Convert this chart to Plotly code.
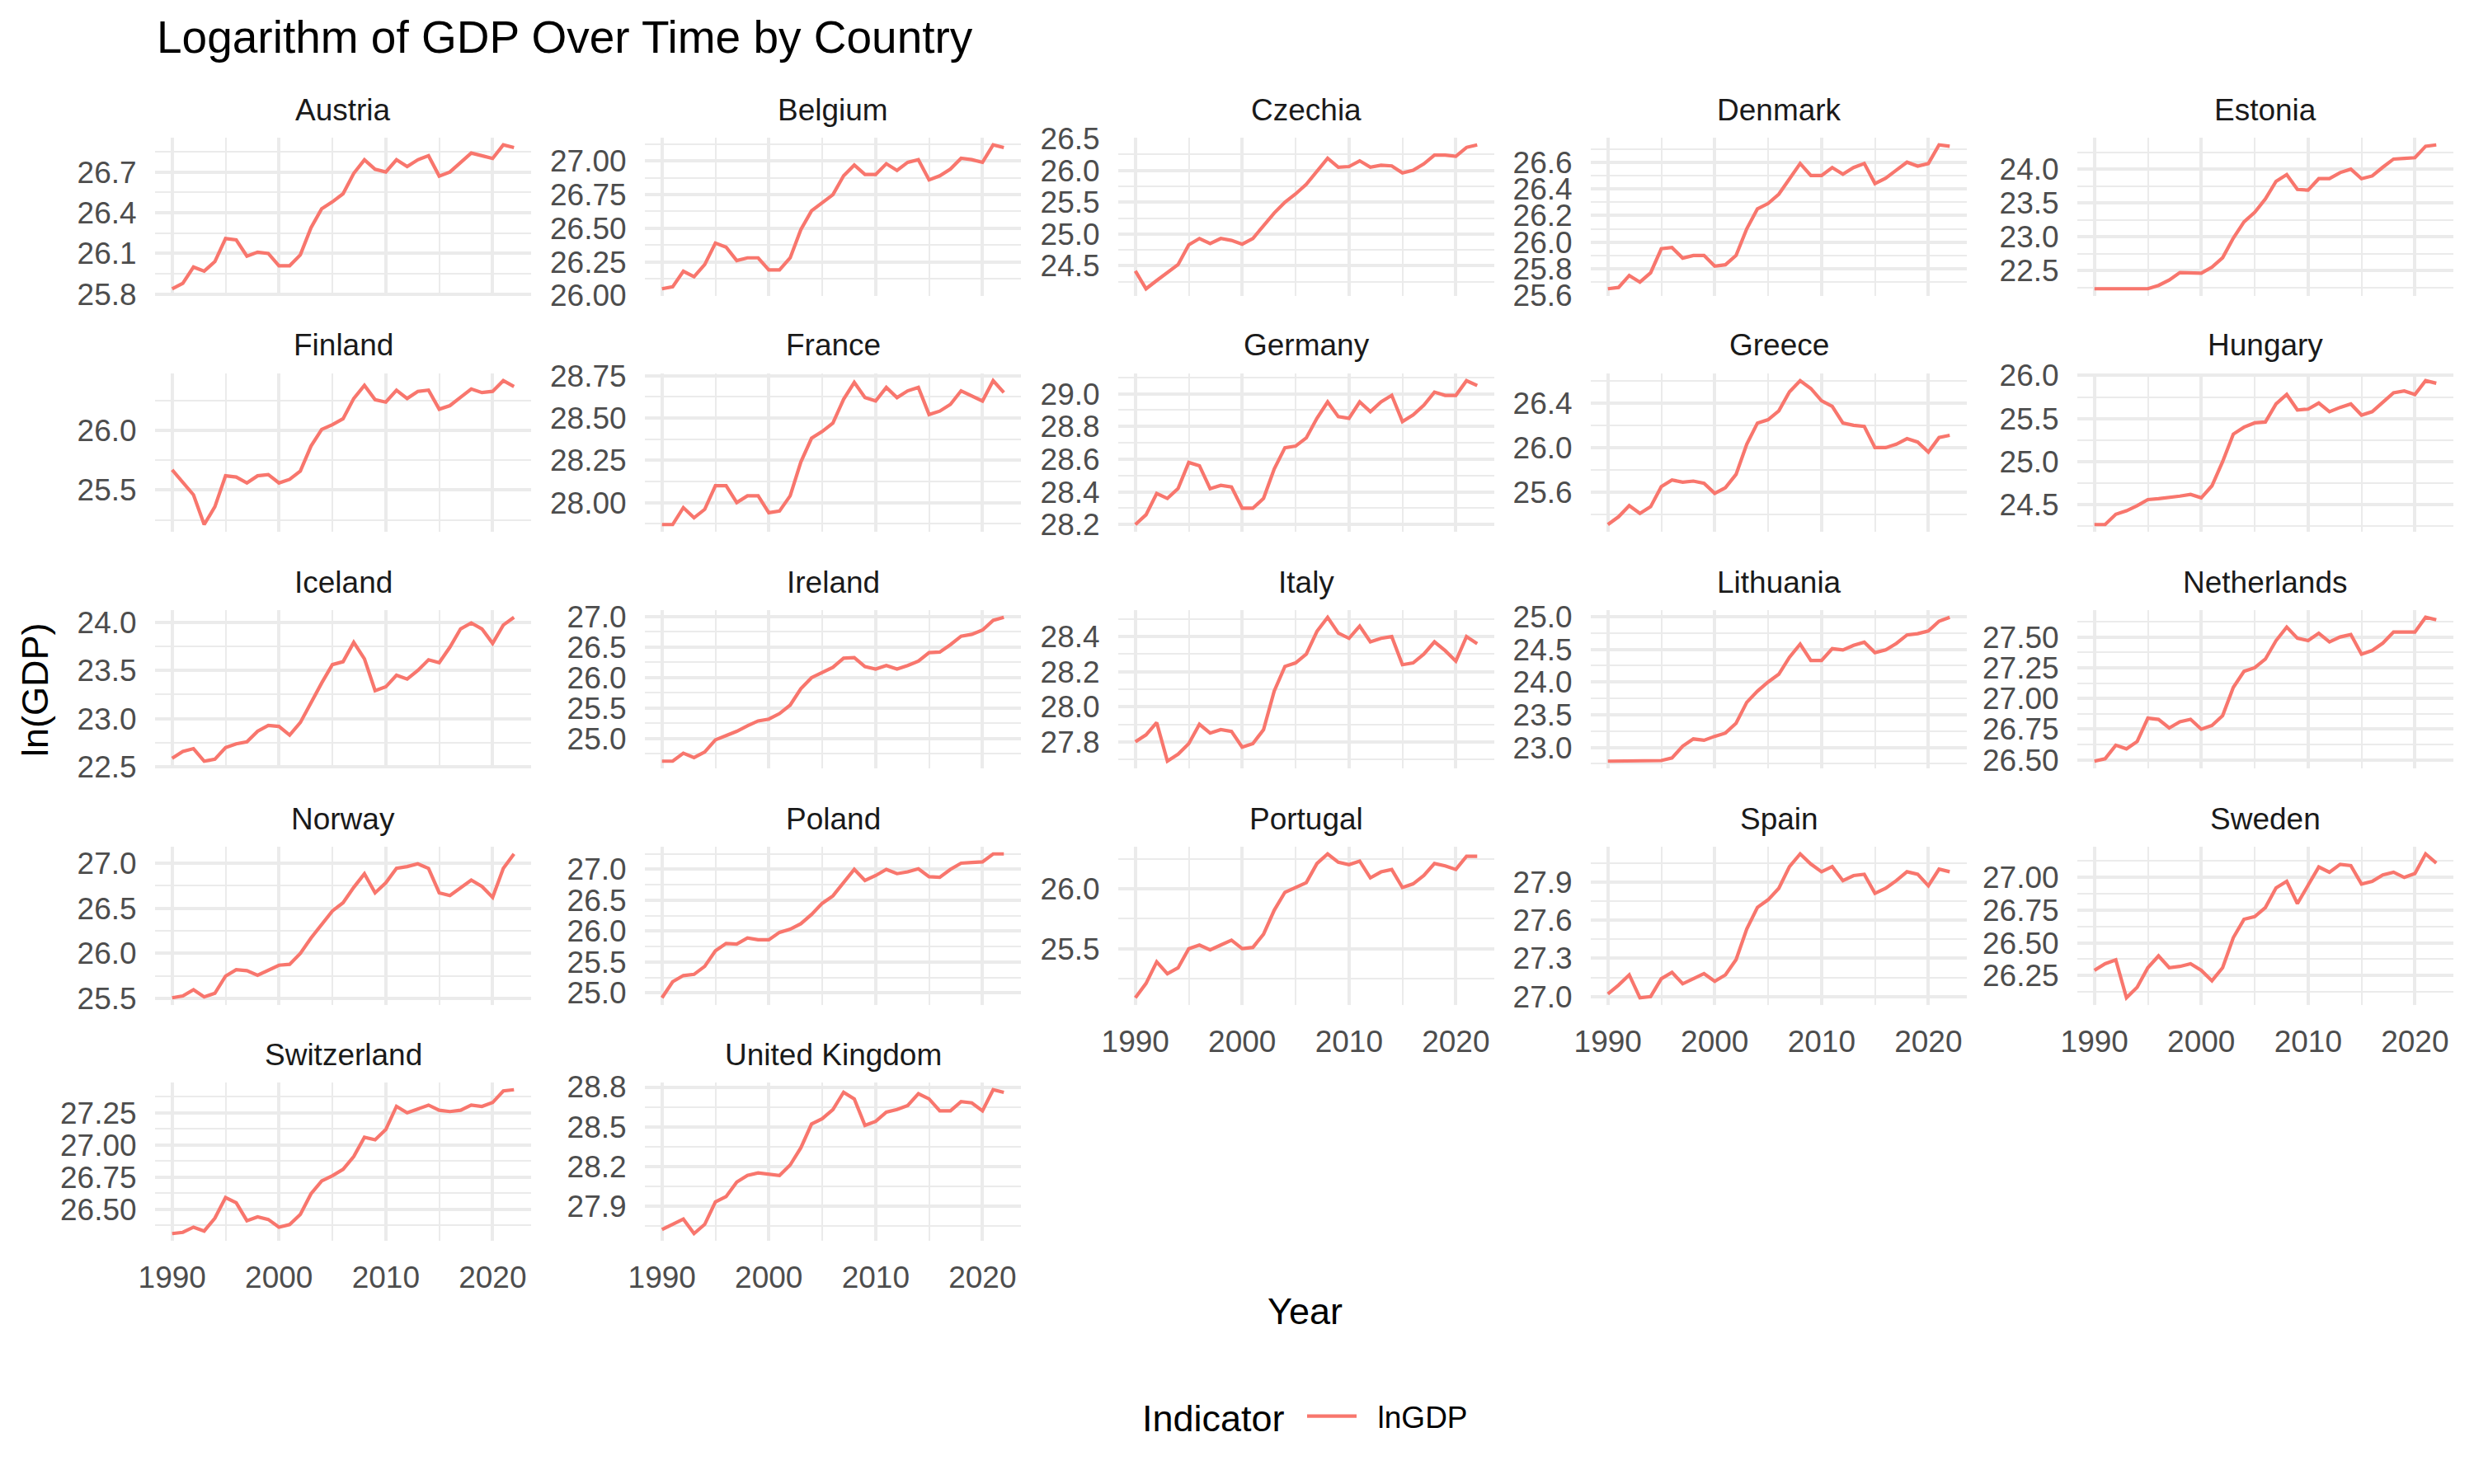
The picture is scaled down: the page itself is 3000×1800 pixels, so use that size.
import plotly.graph_objects as go

# ---------------- data ----------------
YEARS = list(range(1990, 2023))

COUNTRIES = ["Austria", "Belgium", "Czechia", "Denmark", "Estonia",
             "Finland", "France", "Germany", "Greece", "Hungary",
             "Iceland", "Ireland", "Italy", "Lithuania", "Netherlands",
             "Norway", "Poland", "Portugal", "Spain", "Sweden",
             "Switzerland", "United Kingdom"]

AUSTRIA = [25.84, 25.88, 26.00, 25.97, 26.04, 26.21, 26.20, 26.08, 26.11, 26.10,
           26.01, 26.01, 26.09, 26.29, 26.43, 26.48, 26.54, 26.69, 26.79, 26.72,
           26.70, 26.79, 26.74, 26.79, 26.82, 26.67, 26.70, 26.77, 26.84, 26.82,
           26.80, 26.90, 26.88]
BELGIUM = [26.05, 26.065, 26.18, 26.14, 26.23, 26.39, 26.36, 26.26, 26.28, 26.28,
           26.19, 26.19, 26.28, 26.49, 26.63, 26.69, 26.75, 26.89, 26.97, 26.90,
           26.90, 26.98, 26.93, 26.99, 27.01, 26.86, 26.89, 26.94, 27.02, 27.01,
           26.99, 27.12, 27.10]
CZECHIA = [24.42, 24.14, 24.27, 24.39, 24.52, 24.83, 24.93, 24.85, 24.93, 24.90,
           24.84, 24.93, 25.13, 25.33, 25.50, 25.63, 25.78, 25.99, 26.19, 26.05,
           26.06, 26.15, 26.05, 26.08, 26.07, 25.96, 26.00, 26.10, 26.24, 26.24,
           26.22, 26.36, 26.40]
DENMARK = [25.65, 25.66, 25.75, 25.70, 25.77, 25.95, 25.96, 25.88, 25.90, 25.90,
           25.82, 25.83, 25.90, 26.10, 26.25, 26.29, 26.36, 26.48, 26.59, 26.50,
           26.50, 26.56, 26.51, 26.56, 26.59, 26.44, 26.48, 26.54, 26.60, 26.57,
           26.59, 26.73, 26.72]
ESTONIA = [22.23, 22.23, 22.23, 22.23, 22.23, 22.23, 22.28, 22.36, 22.47, 22.47,
           22.46, 22.55, 22.69, 22.98, 23.22, 23.36, 23.56, 23.82, 23.92, 23.70,
           23.69, 23.86, 23.86, 23.95, 24.00, 23.86, 23.90, 24.03, 24.15, 24.16,
           24.17, 24.34, 24.36]
FINLAND = [25.67, 25.57, 25.46, 25.21, 25.36, 25.62, 25.61, 25.56, 25.62, 25.63,
           25.56, 25.59, 25.66, 25.87, 26.01, 26.05, 26.10, 26.27, 26.38, 26.26,
           26.24, 26.34, 26.27, 26.33, 26.34, 26.18, 26.21, 26.28, 26.35, 26.32,
           26.33, 26.42, 26.37]
FRANCE = [27.87, 27.87, 27.97, 27.91, 27.96, 28.10, 28.10, 28.00, 28.04, 28.04,
          27.94, 27.95, 28.04, 28.24, 28.38, 28.42, 28.47, 28.61, 28.71, 28.62,
          28.60, 28.68, 28.62, 28.66, 28.68, 28.52, 28.54, 28.58, 28.66, 28.63,
          28.60, 28.72, 28.65]
GERMANY = [28.20, 28.26, 28.39, 28.36, 28.42, 28.58, 28.56, 28.42, 28.44, 28.43,
           28.30, 28.30, 28.36, 28.54, 28.67, 28.68, 28.73, 28.85, 28.95, 28.86,
           28.85, 28.95, 28.89, 28.95, 28.99, 28.83, 28.87, 28.93, 29.01, 28.99,
           28.99, 29.08, 29.05]
GREECE = [25.31, 25.38, 25.48, 25.41, 25.47, 25.65, 25.71, 25.69, 25.70, 25.68,
          25.59, 25.64, 25.76, 26.03, 26.22, 26.25, 26.33, 26.50, 26.60, 26.53,
          26.42, 26.37, 26.22, 26.20, 26.19, 26.00, 26.00, 26.03, 26.08, 26.05,
          25.96, 26.09, 26.11]
HUNGARY = [24.27, 24.27, 24.39, 24.43, 24.49, 24.56, 24.57, 24.58, 24.60, 24.62,
           24.58, 24.72, 25.00, 25.32, 25.40, 25.45, 25.46, 25.67, 25.78, 25.60,
           25.61, 25.68, 25.58, 25.63, 25.67, 25.54, 25.58, 25.69, 25.80, 25.82,
           25.78, 25.94, 25.91]
ICELAND = [22.59, 22.66, 22.69, 22.56, 22.58, 22.70, 22.74, 22.76, 22.87, 22.93,
           22.92, 22.83, 22.96, 23.17, 23.37, 23.56, 23.59, 23.79, 23.62, 23.29,
           23.33, 23.45, 23.41, 23.50, 23.61, 23.58, 23.74, 23.93, 23.99, 23.93,
           23.78, 23.97, 24.05]
IRELAND = [24.63, 24.63, 24.76, 24.69, 24.78, 24.98, 25.05, 25.12, 25.21, 25.29,
           25.32, 25.41, 25.55, 25.82, 26.00, 26.08, 26.17, 26.32, 26.33, 26.18,
           26.14, 26.20, 26.14, 26.20, 26.27, 26.41, 26.42, 26.54, 26.68, 26.71,
           26.78, 26.94, 26.99]
ITALY = [27.80, 27.84, 27.91, 27.69, 27.73, 27.79, 27.90, 27.85, 27.87, 27.86,
         27.77, 27.79, 27.87, 28.09, 28.23, 28.25, 28.30, 28.43, 28.51, 28.42,
         28.39, 28.46, 28.37, 28.39, 28.40, 28.24, 28.25, 28.30, 28.37, 28.32,
         28.26, 28.40, 28.36]
LITHUANIA = [22.79, 22.79, 22.79, 22.79, 22.79, 22.80, 22.84, 23.02, 23.13, 23.11,
             23.17, 23.22, 23.37, 23.69, 23.86, 24.00, 24.12, 24.38, 24.58, 24.33,
             24.33, 24.51, 24.49, 24.56, 24.61, 24.45, 24.49, 24.59, 24.72, 24.74,
             24.78, 24.93, 24.99]
NETHERLANDS = [26.49, 26.51, 26.62, 26.59, 26.65, 26.84, 26.83, 26.76, 26.81, 26.83,
               26.75, 26.78, 26.86, 27.09, 27.22, 27.25, 27.32, 27.47, 27.58, 27.49,
               27.47, 27.53, 27.46, 27.50, 27.52, 27.36, 27.39, 27.45, 27.54, 27.54,
               27.54, 27.66, 27.64]
NORWAY = [25.51, 25.53, 25.60, 25.52, 25.56, 25.75, 25.82, 25.81, 25.76, 25.81,
          25.87, 25.88, 26.00, 26.17, 26.32, 26.47, 26.56, 26.73, 26.88, 26.67,
          26.78, 26.94, 26.96, 26.99, 26.94, 26.67, 26.64, 26.73, 26.81, 26.74,
          26.62, 26.94, 27.10]
POLAND = [24.92, 25.18, 25.28, 25.30, 25.43, 25.68, 25.80, 25.79, 25.89, 25.86,
          25.86, 25.98, 26.03, 26.12, 26.27, 26.45, 26.57, 26.79, 27.00, 26.82,
          26.90, 27.00, 26.93, 26.96, 27.01, 26.88, 26.87, 27.00, 27.10, 27.11,
          27.12, 27.25, 27.25]
PORTUGAL = [25.09, 25.21, 25.39, 25.29, 25.34, 25.50, 25.53, 25.49, 25.53, 25.57,
            25.50, 25.51, 25.62, 25.82, 25.97, 26.01, 26.05, 26.21, 26.29, 26.22,
            26.20, 26.23, 26.09, 26.14, 26.16, 26.01, 26.04, 26.11, 26.21, 26.19,
            26.16, 26.27, 26.27]
SPAIN = [27.02, 27.09, 27.17, 26.99, 27.00, 27.14, 27.19, 27.10, 27.14, 27.18,
         27.12, 27.17, 27.29, 27.53, 27.70, 27.76, 27.85, 28.02, 28.12, 28.04,
         27.98, 28.02, 27.91, 27.95, 27.96, 27.81, 27.85, 27.91, 27.98, 27.96,
         27.87, 28.00, 27.98]
SWEDEN = [26.29, 26.34, 26.37, 26.08, 26.16, 26.31, 26.40, 26.31, 26.32, 26.34,
          26.29, 26.21, 26.31, 26.54, 26.68, 26.70, 26.77, 26.92, 26.97, 26.80,
          26.94, 27.08, 27.04, 27.10, 27.09, 26.95, 26.97, 27.02, 27.04, 27.00,
          27.03, 27.18, 27.11]
SWITZERLAND = [26.31, 26.32, 26.36, 26.33, 26.43, 26.59, 26.55, 26.41, 26.44, 26.42,
               26.36, 26.38, 26.46, 26.62, 26.72, 26.76, 26.81, 26.91, 27.06, 27.04,
               27.12, 27.30, 27.25, 27.28, 27.31, 27.27, 27.26, 27.27, 27.31, 27.30,
               27.33, 27.42, 27.43]
UNITED_KINGDOM = [27.72, 27.76, 27.80, 27.69, 27.76, 27.93, 27.97, 28.08, 28.13, 28.15,
                  28.14, 28.13, 28.21, 28.34, 28.52, 28.56, 28.63, 28.76, 28.71, 28.51,
                  28.54, 28.61, 28.63, 28.66, 28.75, 28.71, 28.62, 28.62, 28.69, 28.68,
                  28.62, 28.78, 28.76]

SERIES = [AUSTRIA, BELGIUM, CZECHIA, DENMARK, ESTONIA,
          FINLAND, FRANCE, GERMANY, GREECE, HUNGARY,
          ICELAND, IRELAND, ITALY, LITHUANIA, NETHERLANDS,
          NORWAY, POLAND, PORTUGAL, SPAIN, SWEDEN,
          SWITZERLAND, UNITED_KINGDOM]

# spacing of the y tick labels in each panel
Y_TICK_STEP = [0.3, 0.25, 0.5, 0.2, 0.5,
               0.5, 0.25, 0.2, 0.4, 0.5,
               0.5, 0.5, 0.2, 0.5, 0.25,
               0.5, 0.5, 0.5, 0.3, 0.25,
               0.25, 0.3]
X_TICK_STEP = 10
INDICATOR = "lnGDP"
LEGEND_TITLE = "Indicator"

# ---------------- style / layout ----------------
W, H = 3000, 1800
NCOL = 5
COL_LEFT = [188, 782, 1356, 1929, 2519]
ROW_TOP = [167, 453, 740, 1027, 1313]
PANEL_W = 456
PANEL_H = 192
LINE_COLOR = "#F8766D"
GRID = "#EBEBEB"
FONT = "Liberation Sans, Arial, sans-serif"

fig = go.Figure()
layout = {}
annotations = []

xmin, xmax = min(YEARS), max(YEARS)
xpad = 0.05 * (xmax - xmin)
xrange = [xmin - xpad, xmax + xpad]

n = len(COUNTRIES)
for i, (name, vals) in enumerate(zip(COUNTRIES, SERIES)):
    r, c = divmod(i, NCOL)
    sfx = "" if i == 0 else str(i + 1)
    fig.add_trace(go.Scatter(
        x=YEARS, y=vals, mode="lines",
        line=dict(color=LINE_COLOR, width=4.2),
        name="\u00a0\u00a0" + INDICATOR, legendgroup=INDICATOR, showlegend=(i == 0),
        xaxis="x" + sfx, yaxis="y" + sfx,
    ))
    x0 = COL_LEFT[c] / W
    x1 = (COL_LEFT[c] + PANEL_W) / W
    y1 = 1 - ROW_TOP[r] / H
    y0 = 1 - (ROW_TOP[r] + PANEL_H) / H
    lo, hi = min(vals), max(vals)
    pad = 0.05 * (hi - lo)
    step = Y_TICK_STEP[i]
    two_dec = abs(step * 4 - round(step * 4)) < 1e-9 and abs(step * 2 - round(step * 2)) > 1e-9
    fmt = ".2f" if two_dec else ".1f"
    show_x = (i + NCOL) >= n
    layout["xaxis" + sfx] = dict(
        domain=[x0, x1], anchor="y" + sfx, range=xrange,
        tick0=0, dtick=X_TICK_STEP, showticklabels=show_x,
        ticks="outside", ticklen=12, tickcolor="rgba(0,0,0,0)",
        tickfont=dict(size=37, color="#4D4D4D", family=FONT),
        showgrid=True, gridcolor=GRID, gridwidth=3.6,
        minor=dict(dtick=X_TICK_STEP / 2, tick0=0, showgrid=True,
                   gridcolor=GRID, gridwidth=1.9, ticks=""),
        showline=False, zeroline=False, automargin=False, fixedrange=True,
    )
    layout["yaxis" + sfx] = dict(
        domain=[y0, y1], anchor="x" + sfx, range=[lo - pad, hi + pad],
        tick0=0, dtick=step, tickformat=fmt,
        ticks="outside", ticklen=14, tickcolor="rgba(0,0,0,0)",
        tickfont=dict(size=37, color="#4D4D4D", family=FONT),
        showgrid=True, gridcolor=GRID, gridwidth=3.6,
        minor=dict(dtick=step / 2, tick0=0, showgrid=True,
                   gridcolor=GRID, gridwidth=1.9, ticks=""),
        showline=False, zeroline=False, automargin=False, fixedrange=True,
    )
    annotations.append(dict(
        text=name, xref="paper", yref="paper",
        x=(x0 + x1) / 2, y=1 - (ROW_TOP[r] - 34) / H,
        xanchor="center", yanchor="middle", showarrow=False,
        font=dict(size=37, color="#1A1A1A", family=FONT),
    ))

# title
annotations.append(dict(
    text="Logarithm of GDP Over Time by Country", xref="paper", yref="paper",
    x=188 / W, y=1 - 45 / H, xanchor="left", yanchor="middle", showarrow=False,
    font=dict(size=55, color="black", family=FONT),
))
# axis titles
annotations.append(dict(
    text="Year", xref="paper", yref="paper",
    x=1582 / W, y=1 - 1590 / H, xanchor="center", yanchor="middle", showarrow=False,
    font=dict(size=45, color="black", family=FONT),
))
annotations.append(dict(
    text="ln(GDP)", xref="paper", yref="paper", textangle=-90,
    x=42 / W, y=1 - 837 / H, xanchor="center", yanchor="middle", showarrow=False,
    font=dict(size=45, color="black", family=FONT),
))
# legend title
annotations.append(dict(
    text=LEGEND_TITLE, xref="paper", yref="paper",
    x=1560 / W, y=1 - 1720 / H, xanchor="right", yanchor="middle", showarrow=False,
    font=dict(size=45, color="black", family=FONT),
))

fig.update_layout(
    width=W, height=H,
    margin=dict(l=0, r=0, t=0, b=0),
    paper_bgcolor="white", plot_bgcolor="white",
    font=dict(family=FONT),
    showlegend=True,
    legend=dict(
        orientation="h", x=1580 / W, y=1 - 1718 / H,
        xanchor="left", yanchor="middle",
        font=dict(size=37, color="black", family=FONT),
        itemwidth=60, bgcolor="rgba(0,0,0,0)",
    ),
    annotations=annotations,
    **layout,
)

fig.write_html("out.html")
